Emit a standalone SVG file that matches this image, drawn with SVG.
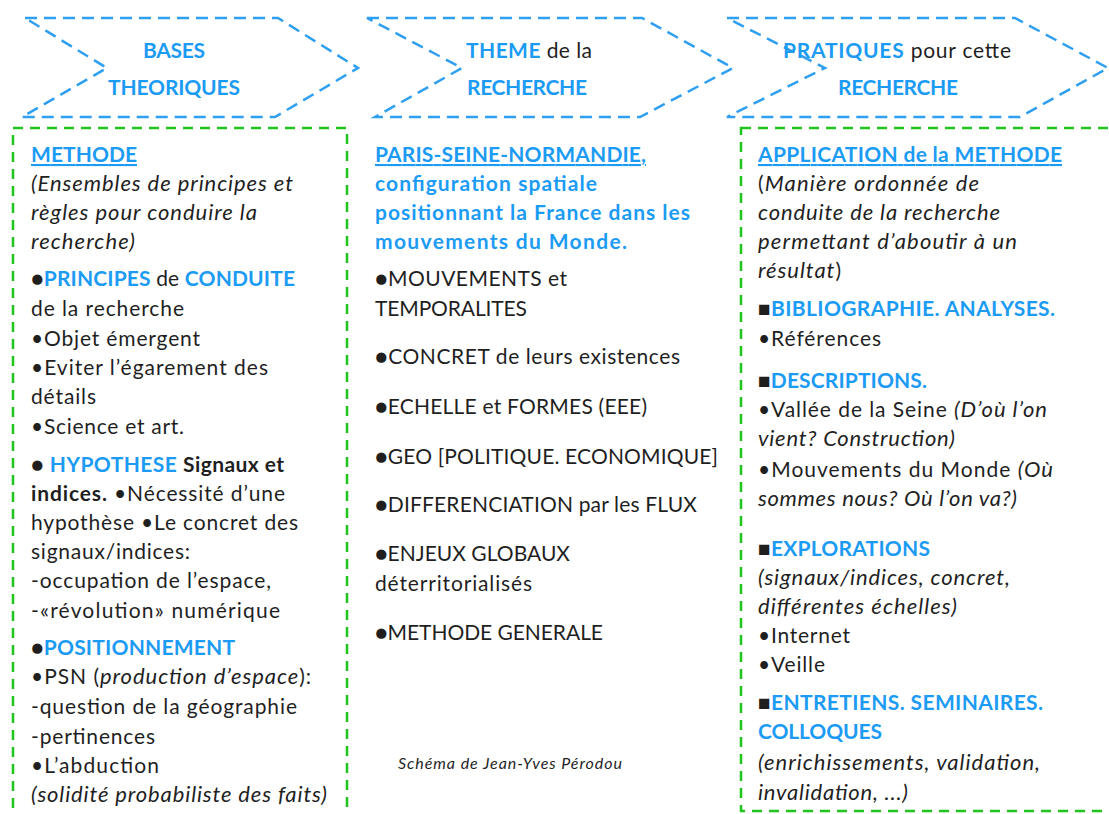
<svg xmlns="http://www.w3.org/2000/svg" width="1109" height="814" viewBox="0 0 1109 814">
<style>
text{font-family:Lato,"Open Sans","Liberation Sans",sans-serif;font-size:21px;fill:#1f1f1f}
.b{font-weight:bold;fill:#1c9bf5}
.k{font-weight:bold;fill:#1f1f1f}
.i{font-style:italic;font-size:22px}
.u{text-decoration:underline}
.chev{fill:none;stroke:#2f9ff2;stroke-width:2.5;stroke-dasharray:12 7}
.box{fill:none;stroke:#1fc41f;stroke-width:2.5;stroke-dasharray:10 7}
</style>
<rect width="1109" height="814" fill="#fff"/>
<g id="chevron-bases">
<path class="chev" d="M25,18 L278,18 L358,68 L275,117 L22,117 L107,68 Z"/>
<text class="b" x="143" y="58" textLength="62" lengthAdjust="spacing">BASES</text>
<text class="b" x="108" y="95" textLength="132" lengthAdjust="spacing">THEORIQUES</text>
</g>
<g id="chevron-theme">
<path class="chev" d="M367,18 L642,18 L733,68 L640,117 L375,117 L462,68 Z"/>
<text x="466" y="58" textLength="126" lengthAdjust="spacing"><tspan class="b">THEME</tspan> de la</text>
<text class="b" x="467" y="95" textLength="120" lengthAdjust="spacing">RECHERCHE</text>
</g>
<g id="chevron-pratiques">
<path class="chev" d="M727,18 L1015,18 L1108,68 L1020,117 L727,117 L825,68 Z"/>
<text x="783" y="58" textLength="228" lengthAdjust="spacing"><tspan class="b">PRATIQUES</tspan> pour cette</text>
<text class="b" x="838" y="95" textLength="120" lengthAdjust="spacing">RECHERCHE</text>
</g>
<g id="box-bases">
<rect class="box" x="13" y="128" width="334" height="720"/>
<text class="b u" x="31" y="162" textLength="106" lengthAdjust="spacing">METHODE</text>
<text class="i" x="31" y="191" textLength="262" lengthAdjust="spacing">(Ensembles de principes et</text>
<text class="i" x="31" y="220" textLength="226" lengthAdjust="spacing">règles pour conduire la</text>
<text class="i" x="31" y="249" textLength="104" lengthAdjust="spacing">recherche)</text>
<text x="31" y="286" textLength="264" lengthAdjust="spacing">●<tspan class="b">PRINCIPES</tspan> de <tspan class="b">CONDUITE</tspan></text>
<text x="31" y="316" textLength="153" lengthAdjust="spacing">de la recherche</text>
<text x="31" y="346" textLength="169" lengthAdjust="spacing">•Objet émergent</text>
<text x="31" y="375" textLength="237" lengthAdjust="spacing">•Eviter l’égarement des</text>
<text x="31" y="404" textLength="65" lengthAdjust="spacing">détails</text>
<text x="31" y="434" textLength="153" lengthAdjust="spacing">•Science et art.</text>
<text x="31" y="472" textLength="253" lengthAdjust="spacing">● <tspan class="b">HYPOTHESE</tspan> <tspan class="k">Signaux et</tspan></text>
<text x="31" y="501" textLength="254" lengthAdjust="spacing"><tspan class="k">indices.</tspan> •Nécessité d’une</text>
<text x="31" y="530" textLength="267" lengthAdjust="spacing">hypothèse •Le concret des</text>
<text x="31" y="559" textLength="159" lengthAdjust="spacing">signaux/indices:</text>
<text x="31" y="588" textLength="240" lengthAdjust="spacing">-occupation de l’espace,</text>
<text x="31" y="618" textLength="249" lengthAdjust="spacing">-«révolution» numérique</text>
<text x="31" y="655" textLength="204" lengthAdjust="spacing">●<tspan class="b">POSITIONNEMENT</tspan></text>
<text x="31" y="684" textLength="280" lengthAdjust="spacing">•PSN (<tspan class="i">production d’espace</tspan>):</text>
<text x="31" y="714" textLength="266" lengthAdjust="spacing">-question de la géographie</text>
<text x="31" y="744" textLength="124" lengthAdjust="spacing">-pertinences</text>
<text x="31" y="773" textLength="128" lengthAdjust="spacing">•L’abduction</text>
<text class="i" x="31" y="802" textLength="296" lengthAdjust="spacing">(solidité probabiliste des faits)</text>
</g>
<g id="box-theme">
<text class="b u" x="375" y="162" textLength="271" lengthAdjust="spacing">PARIS-SEINE-NORMANDIE,</text>
<text class="b" x="375" y="191" textLength="222" lengthAdjust="spacing">configuration spatiale</text>
<text class="b" x="375" y="220" textLength="315" lengthAdjust="spacing">positionnant la France dans les</text>
<text class="b" x="375" y="249" textLength="252" lengthAdjust="spacing">mouvements du Monde.</text>
<text x="375" y="286" textLength="192" lengthAdjust="spacing">●MOUVEMENTS et</text>
<text x="375" y="316" textLength="152" lengthAdjust="spacing">TEMPORALITES</text>
<text x="375" y="364" textLength="305" lengthAdjust="spacing">●CONCRET de leurs existences</text>
<text x="375" y="414" textLength="272" lengthAdjust="spacing">●ECHELLE et FORMES (EEE)</text>
<text x="375" y="464" textLength="343" lengthAdjust="spacing">●GEO [POLITIQUE. ECONOMIQUE]</text>
<text x="375" y="512" textLength="322" lengthAdjust="spacing">●DIFFERENCIATION par les FLUX</text>
<text x="375" y="561" textLength="195" lengthAdjust="spacing">●ENJEUX GLOBAUX</text>
<text x="375" y="591" textLength="157" lengthAdjust="spacing">déterritorialisés</text>
<text x="375" y="640" textLength="228" lengthAdjust="spacing">●METHODE GENERALE</text>
<text class="i" x="398" y="769" style="font-size:16px" textLength="224" lengthAdjust="spacing">Schéma de Jean-Yves Pérodou</text>
</g>
<g id="box-pratiques">
<rect class="box" x="741" y="128" width="400" height="683"/>
<text class="b u" x="758" y="162" textLength="304" lengthAdjust="spacing">APPLICATION de la METHODE</text>
<text x="758" y="191" textLength="221" lengthAdjust="spacing">(<tspan class="i">Manière ordonnée de</tspan></text>
<text class="i" x="758" y="220" textLength="242" lengthAdjust="spacing">conduite de la recherche</text>
<text class="i" x="758" y="249" textLength="259" lengthAdjust="spacing">permettant d’aboutir à un</text>
<text x="758" y="278" textLength="83" lengthAdjust="spacing"><tspan class="i">résultat</tspan>)</text>
<text x="758" y="316" textLength="297" lengthAdjust="spacing">■<tspan class="b">BIBLIOGRAPHIE. ANALYSES.</tspan></text>
<text x="758" y="346" textLength="123" lengthAdjust="spacing">•Références</text>
<text x="758" y="388" textLength="169" lengthAdjust="spacing">■<tspan class="b">DESCRIPTIONS.</tspan></text>
<text x="758" y="417" textLength="289" lengthAdjust="spacing">•Vallée de la Seine <tspan class="i">(D’où l’on</tspan></text>
<text class="i" x="758" y="446" textLength="197" lengthAdjust="spacing">vient? Construction)</text>
<text x="758" y="477" textLength="295" lengthAdjust="spacing">•Mouvements du Monde <tspan class="i">(Où</tspan></text>
<text class="i" x="758" y="506" textLength="259" lengthAdjust="spacing">sommes nous? Où l’on va?)</text>
<text x="758" y="556" textLength="172" lengthAdjust="spacing">■<tspan class="b">EXPLORATIONS</tspan></text>
<text class="i" x="758" y="585" textLength="252" lengthAdjust="spacing">(signaux/indices, concret,</text>
<text class="i" x="758" y="614" textLength="199" lengthAdjust="spacing">différentes échelles)</text>
<text x="758" y="643" textLength="92" lengthAdjust="spacing">•Internet</text>
<text x="758" y="672" textLength="67" lengthAdjust="spacing">•Veille</text>
<text x="758" y="710" textLength="285" lengthAdjust="spacing">■<tspan class="b">ENTRETIENS. SEMINAIRES.</tspan></text>
<text class="b" x="758" y="739" textLength="124" lengthAdjust="spacing">COLLOQUES</text>
<text class="i" x="758" y="770" textLength="282" lengthAdjust="spacing">(enrichissements, validation,</text>
<text class="i" x="758" y="800" textLength="150" lengthAdjust="spacing">invalidation, ...)</text>
</g>
<g id="connectors"/>
</svg>
